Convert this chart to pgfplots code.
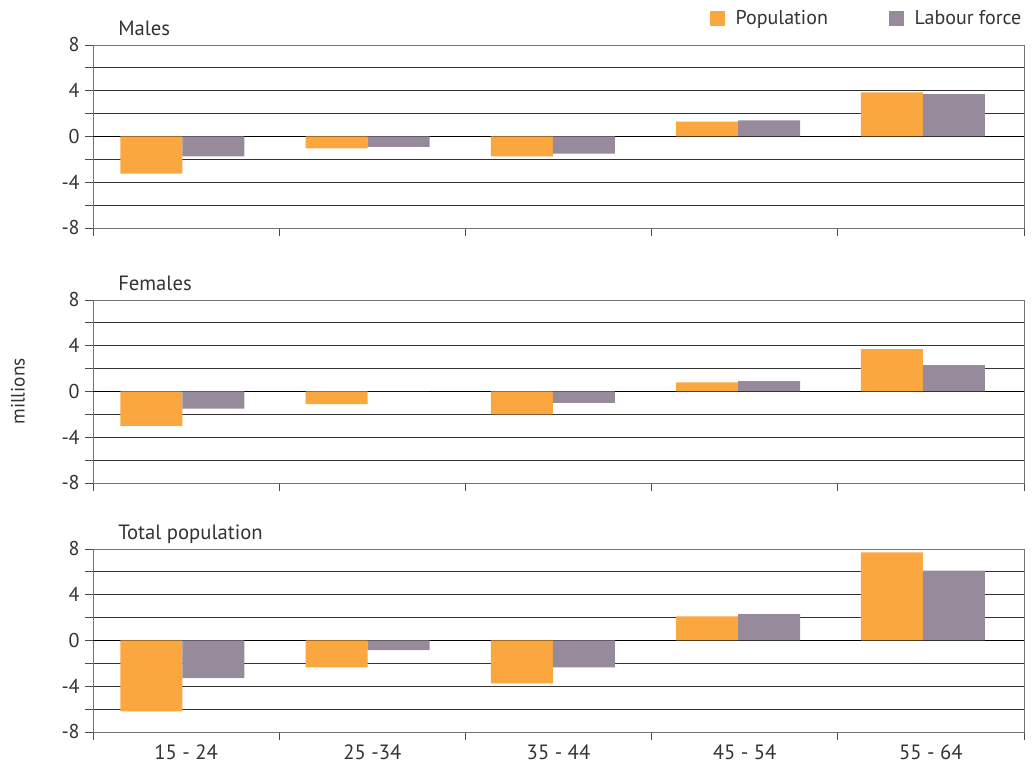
\documentclass[border=0pt]{standalone}
\usepackage{fontspec}
\setmainfont{PT Sans}
\usepackage{pgfplots}
\pgfplotsset{compat=1.18}
\definecolor{popc}{RGB}{249,167,62}
\definecolor{labc}{RGB}{150,138,155}
\definecolor{txt}{RGB}{51,51,51}
\definecolor{gridc}{RGB}{50,50,50}

\tikzset{ptitle/.style={anchor=base west, font=\fontsize{15.5}{17}\selectfont, text=txt, inner sep=0pt}}

\pgfplotsset{
  panel/.style={
    scale only axis, clip=false,
    width=698.25pt, height=137.25pt,
    xmin=0.5, xmax=5.5, ymin=-8, ymax=8,
    ybar=0pt, bar width=0.333,
    xtick={1,2,3,4,5},
    minor xtick={0.5,1.5,2.5,3.5,4.5,5.5},
    ytick={-8,-4,0,4,8},
    minor ytick={-6,-2,2,6},
    xtick pos=bottom, ytick pos=left,
    tick align=outside,
    major x tick style={draw=none},
    minor x tick style={black!70, line width=0.6pt},
    y tick style={black!70, line width=0.6pt},
    major tick length=6pt, minor tick length=6pt,
    ymajorgrids, yminorgrids,
    grid style={gridc, line width=0.6pt},
    minor grid style={gridc, line width=0.6pt},
    axis line style={black!55, line width=0.6pt},
    /pgf/number format/assume math mode=true,
    yticklabel style={font=\fontsize{15}{17}\selectfont, text=txt, xshift=-0.5pt},
    xticklabel style={font=\fontsize{15.5}{17}\selectfont, text=txt},
    xticklabels={},
    extra y ticks={0},
    extra y tick labels={},
    extra y tick style={grid style={black, line width=1.1pt}, major tick length=0pt},
  },
  popbar/.style={fill=popc, draw=none, bar shift=-0.1665},
  labbar/.style={fill=labc, draw=none, bar shift=0.1665},
}

% x = position of the bar pair within each category
\pgfplotstableread{
x pop lab
0.980 -3.25 -1.75
1.975 -1.05 -0.9
2.970 -1.75 -1.5
3.965 1.3 1.4
4.957 3.85 3.7
}\males
\pgfplotstableread{
x pop lab
0.980 -3.0 -1.5
1.975 -1.1 0
2.970 -2.0 -1.0
3.965 0.8 0.9
4.957 3.7 2.3
}\females
\pgfplotstableread{
x pop lab
0.980 -6.2 -3.3
1.975 -2.35 -0.85
2.970 -3.75 -2.35
3.965 2.1 2.3
4.957 7.7 6.1
}\total

\begin{document}
\begin{tikzpicture}
\path[use as bounding box] (0,0) rectangle (774pt,574.5pt);

\begin{axis}[panel, at={(69.75pt,403.5pt)}, anchor=south west,
  legend style={at={(rel axis cs:1,1)}, anchor=south east, yshift=11.5pt,
    draw=none, fill=none, inner sep=0pt, outer sep=0pt,
    legend columns=2, font=\fontsize{15}{17}\selectfont, text=txt,
    /tikz/every even column/.append style={column sep=44pt}},
  legend image code/.code={\fill[#1] (0pt,-5.6pt) rectangle (11.25pt,5.6pt); \path (17pt,0pt);},
  legend cell align=left]
\addplot[popbar] table[x=x, y=pop] {\males};
\addplot[labbar] table[x=x, y=lab] {\males};
\legend{Population, Labour force}
\node[ptitle] at ([xshift=18.75pt, yshift=7.3pt]rel axis cs:0,1) {Males};
\end{axis}

\begin{axis}[panel, at={(69.75pt,212.25pt)}, anchor=south west]
\addplot[popbar] table[x=x, y=pop] {\females};
\addplot[labbar] table[x=x, y=lab] {\females};
\node[ptitle] at ([xshift=18.75pt, yshift=7.3pt]rel axis cs:0,1) {Females};
\end{axis}

\begin{axis}[panel, at={(69.75pt,25.5pt)}, anchor=south west,
  xticklabels={15 - 24, 25 -34, 35 - 44, 45 - 54, 55 - 64}]
\addplot[popbar] table[x=x, y=pop] {\total};
\addplot[labbar] table[x=x, y=lab] {\total};
\node[ptitle] at ([xshift=18.75pt, yshift=7.3pt]rel axis cs:0,1) {Total population};
\end{axis}

\node[rotate=90, font=\fontsize{14.5}{16}\selectfont, text=txt] at (13.5pt, 281pt) {millions};
\end{tikzpicture}
\end{document}
